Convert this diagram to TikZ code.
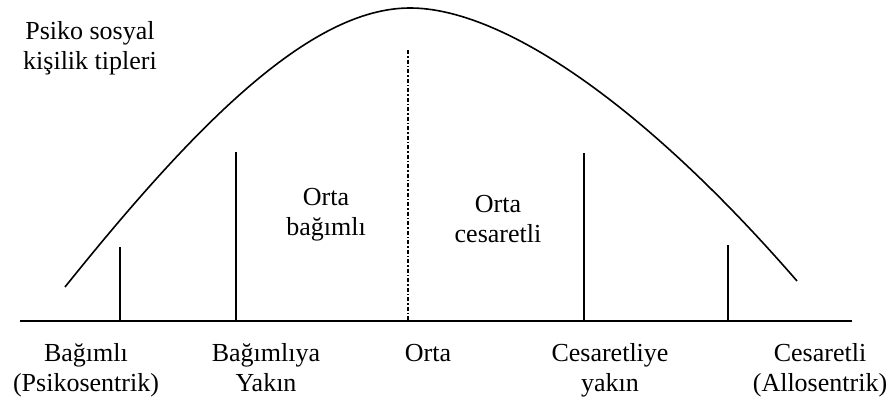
\documentclass[tikz,border=0pt]{standalone}
\usepackage{fontspec}
\setmainfont{Liberation Serif}
\begin{document}
\begin{tikzpicture}[x=1pt,y=-1pt,
  lbl/.style={inner sep=0pt,align=center,font=\fontsize{26}{30}\selectfont},
  ln/.style={line width=1.8pt,black}]
\useasboundingbox (0,0) rectangle (890,396);
% axis
\coordinate (axL) at (20,321);
\coordinate (axR) at (852,321);
\draw[ln] (axL) -- (axR);
% bell curve
\coordinate (cL) at (65,287);
\coordinate (cT) at (410,8);
\coordinate (cR) at (797,281);
\draw[ln,line width=1.6pt] (cL) .. controls (195,125) and (310,8) .. (cT)
  .. controls (500,8) and (640,100) .. (cR);
% ticks
\coordinate (t1) at (120,247); \coordinate (b1) at (120,321);
\coordinate (t2) at (236,152); \coordinate (b2) at (236,321);
\coordinate (t3) at (408,50);  \coordinate (b3) at (408,321);
\coordinate (t4) at (584,153); \coordinate (b4) at (584,321);
\coordinate (t5) at (728,245); \coordinate (b5) at (728,321);
\draw[ln] (t1) -- (b1);
\draw[ln] (t2) -- (b2);
\draw[line width=2pt,dash pattern=on 4pt off 2pt on 1.5pt off 2pt] (t3) -- (b3);
\draw[ln] (t4) -- (b4);
\draw[ln] (t5) -- (b5);
% labels (struts give equal line boxes: first baseline = centre - 9)
\node[lbl] (title) at (90,49) {\strut Psiko sosyal\\kişilik tipleri\strut};
\node[lbl] (ob) at (326,214) {\strut Orta\\bağımlı\strut};
\node[lbl] (oc) at (498,221) {\strut Orta\\cesaretli\strut};
\node[lbl] (l1) at (86,370) {\strut Bağımlı\\(Psikosentrik)\strut};
\node[lbl] (l2) at (266,370) {\strut Bağımlıya\\Yakın\strut};
\node[lbl,anchor=base] (l3) at (428,361) {Orta};
\node[lbl] (l4) at (610,370) {\strut Cesaretliye\\yakın\strut};
\node[lbl] (l5) at (820,370) {\strut Cesaretli\\(Allosentrik)\strut};
\end{tikzpicture}
\end{document}
